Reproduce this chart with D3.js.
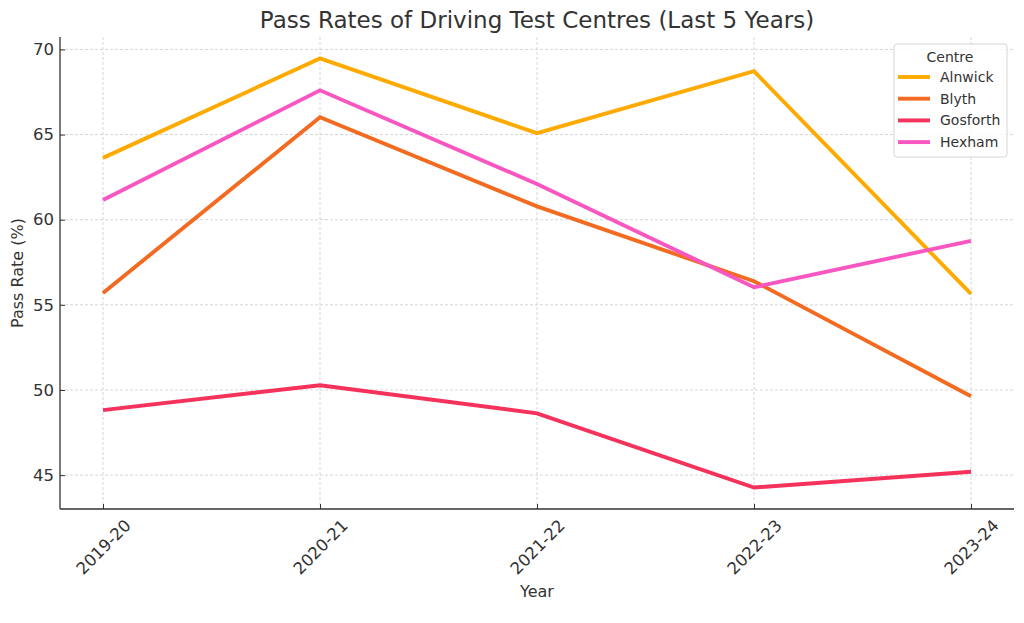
<!DOCTYPE html>
<html><head><meta charset="utf-8">
<script src="https://cdn.jsdelivr.net/npm/d3@7"></script>
<style>
body{margin:0;background:#fff;}
svg{display:block;}
svg text{font-family:"DejaVu Sans",sans-serif;}
</style></head>
<body>
<svg id="chart" width="1024" height="623"></svg>
<script>
const years = ["2019-20","2020-21","2021-22","2022-23","2023-24"];
const centres = ["Alnwick","Blyth","Gosforth","Hexham"];
const alnwick = [63.63, 69.47, 65.08, 68.72, 55.64];
const blyth = [55.70, 66.02, 60.78, 56.39, 49.63];
const gosforth = [48.82, 50.28, 48.63, 44.27, 45.20];
const hexham = [61.16, 67.60, 62.10, 56.03, 58.76];
const colors = ["#FFAA00","#F26B21","#F5325B","#F857C1"];
const yTicks = [45,50,55,60,65,70];

const seriesValues = [alnwick, blyth, gosforth, hexham];
const svg = d3.select("#chart");
const m = {left:60, right:1014, top:37, bottom:509};
const textColor = "#333333";
const tickFont = 16.5;

const x = d3.scalePoint().domain(years).range([103, 971]);
const allVals = seriesValues.flat();
const lo = d3.min(allVals), hi = d3.max(allVals), pad = (hi-lo)*0.05;
const y = d3.scaleLinear().domain([lo-pad, hi+pad]).range([m.bottom, m.top]);

// grid
const grid = svg.append("g");
grid.selectAll("line.gy").data(yTicks).join("line")
  .attr("x1", m.left).attr("x2", m.right)
  .attr("y1", d=>y(d)).attr("y2", d=>y(d))
  .attr("stroke","#cccccc").attr("stroke-width",0.8).attr("stroke-dasharray","3,2");
grid.selectAll("line.gx").data(years).join("line")
  .attr("x1", d=>x(d)).attr("x2", d=>x(d))
  .attr("y1", m.top).attr("y2", m.bottom)
  .attr("stroke","#cccccc").attr("stroke-width",0.8).attr("stroke-dasharray","3,2");

// axes
const xAxis = svg.append("g").attr("transform",`translate(0,${m.bottom})`)
  .call(d3.axisBottom(x).tickSize(-5).tickPadding(10));
xAxis.attr("font-family",null).attr("font-size",null);
xAxis.select(".domain").remove();
xAxis.selectAll(".tick line").attr("stroke","#333");
xAxis.selectAll(".tick text")
  .style("font-size",tickFont+"px").attr("fill",textColor)
  .attr("text-anchor","middle")
  .attr("dy","0.35em").attr("y",0)
  .attr("transform",function(){
    const L = this.getComputedTextLength();
    const h = (L + tickFont*0.95)*Math.SQRT1_2;
    const cy = 8 + h/2;
    return `translate(0,${cy}) rotate(-45)`;
  });
svg.append("line").attr("x1",m.left).attr("x2",m.right).attr("y1",m.bottom).attr("y2",m.bottom)
  .attr("stroke","#333").attr("stroke-width",1.3);

const yAxis = svg.append("g").attr("transform",`translate(${m.left},0)`)
  .call(d3.axisLeft(y).tickValues(yTicks).tickSize(-5).tickPadding(6));
yAxis.attr("font-family",null).attr("font-size",null);
yAxis.select(".domain").remove();
yAxis.selectAll(".tick line").attr("stroke","#333");
yAxis.selectAll(".tick text").style("font-size",tickFont+"px").attr("fill",textColor);
svg.append("line").attr("x1",m.left).attr("x2",m.left).attr("y1",m.top).attr("y2",m.bottom)
  .attr("stroke","#333").attr("stroke-width",1.3);

// lines
const line = d3.line().x((d,i)=>x(years[i])).y(d=>y(d));
svg.append("g").selectAll("path").data(seriesValues).join("path")
  .attr("d", line).attr("fill","none")
  .attr("stroke",(d,i)=>colors[i]).attr("stroke-width",3.9)
  .attr("stroke-linejoin","miter").attr("stroke-linecap","butt");

// labels
svg.append("text").attr("x",537).attr("y",28).attr("text-anchor","middle")
  .style("font-size","23px").attr("fill",textColor).text("Pass Rates of Driving Test Centres (Last 5 Years)");
svg.append("text").attr("x",537).attr("y",597).attr("text-anchor","middle")
  .style("font-size","16px").attr("fill",textColor).text("Year");
svg.append("text").attr("transform","translate(23,273) rotate(-90)").attr("text-anchor","middle")
  .style("font-size","16px").attr("fill",textColor).text("Pass Rate (%)");

// legend
const lg = svg.append("g");
lg.append("rect").attr("x",894).attr("y",44).attr("width",113).attr("height",113)
  .attr("rx",3).attr("fill","#fff").attr("fill-opacity",0.85).attr("stroke","#d5d5d5");
lg.append("text").attr("x",950).attr("y",62).attr("text-anchor","middle")
  .style("font-size","14px").attr("fill",textColor).text("Centre");
const items = lg.selectAll("g.it").data(centres).join("g")
  .attr("transform",(d,i)=>`translate(0,${77+i*21.7})`);
items.append("line").attr("x1",898).attr("x2",930).attr("y1",0).attr("y2",0)
  .attr("stroke",(d,i)=>colors[i]).attr("stroke-width",3.9);
items.append("text").attr("x",940).attr("y",5).style("font-size","14px")
  .attr("fill",textColor).text(d=>d);
</script>
</body></html>
